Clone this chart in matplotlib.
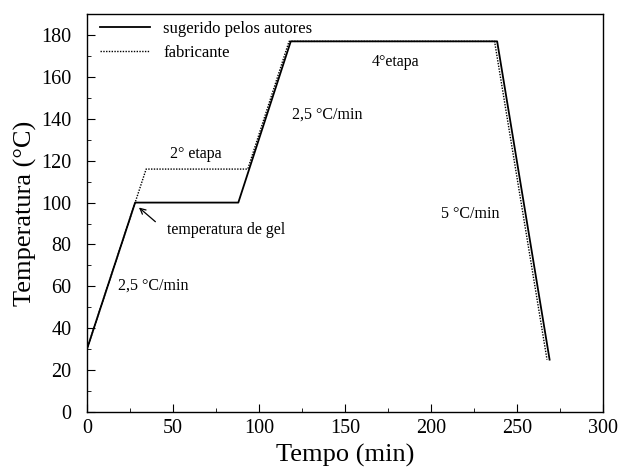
import matplotlib.pyplot as plt
from matplotlib.ticker import MultipleLocator

plt.rcParams["font.family"] = ["Liberation Serif", "DejaVu Serif"]

# sugerido pelos autores
tempo_autores = [0, 28, 88, 118.5, 238.5, 269]
temp_autores = [30, 100, 100, 177, 177, 25]

# fabricante
tempo_fab = [0, 34.4, 93.5, 117.5, 237, 267.5]
temp_fab = [30, 116, 116, 177, 177, 25]

fig = plt.figure(figsize=(6.19, 4.71), dpi=100)
ax = fig.add_axes([0.1405, 0.1253, 0.8335, 0.8447])

ax.plot(tempo_autores, temp_autores, color="black", lw=1.3, label="sugerido pelos autores")
ax.plot(tempo_fab, temp_fab, color="black", lw=1.0, ls=(0, (1, 1)), label="fabricante")

ax.set_xlim(0, 300)
ax.set_ylim(0, 190)
ax.xaxis.set_major_locator(MultipleLocator(50))
ax.xaxis.set_minor_locator(MultipleLocator(25))
ax.yaxis.set_major_locator(MultipleLocator(20))
ax.yaxis.set_minor_locator(MultipleLocator(10))
ax.tick_params(which="both", direction="in", top=False, right=False, labelsize=14.5)
ax.tick_params(which="major", length=6, pad=5)
ax.tick_params(which="minor", length=3)
ax.tick_params(axis="y", which="major", pad=11)
for s in ax.spines.values():
    s.set_linewidth(1.0)

ax.set_xlabel("Tempo (min)", fontsize=19, labelpad=4)
ax.set_ylabel("Temperatura (°C)", fontsize=19, labelpad=3)

ax.text(63.5, 123, "2° etapa", fontsize=11.5, ha="center", va="center")
ax.text(46.5, 87, "temperatura de gel", fontsize=11.5, ha="left", va="center")
ax.annotate("", xy=(29, 98.5), xytext=(41, 90),
            arrowprops=dict(arrowstyle="->", color="black", lw=0.9))
ax.text(18, 60.5, "2,5 °C/min", fontsize=11.5, ha="left", va="center")
ax.text(119, 142, "2,5 °C/min", fontsize=11.5, ha="left", va="center")
ax.text(165.5, 167, "4°etapa", fontsize=11.5, ha="left", va="center")
ax.text(206, 94.5, "5 °C/min", fontsize=11.5, ha="left", va="center")

ax.legend(loc="upper left", frameon=False, fontsize=12, handlelength=3.0,
          handletextpad=0.8, borderaxespad=0.0, labelspacing=0.5,
          bbox_to_anchor=(0.012, 1.0))

fig.savefig("out.png", dpi=100)
